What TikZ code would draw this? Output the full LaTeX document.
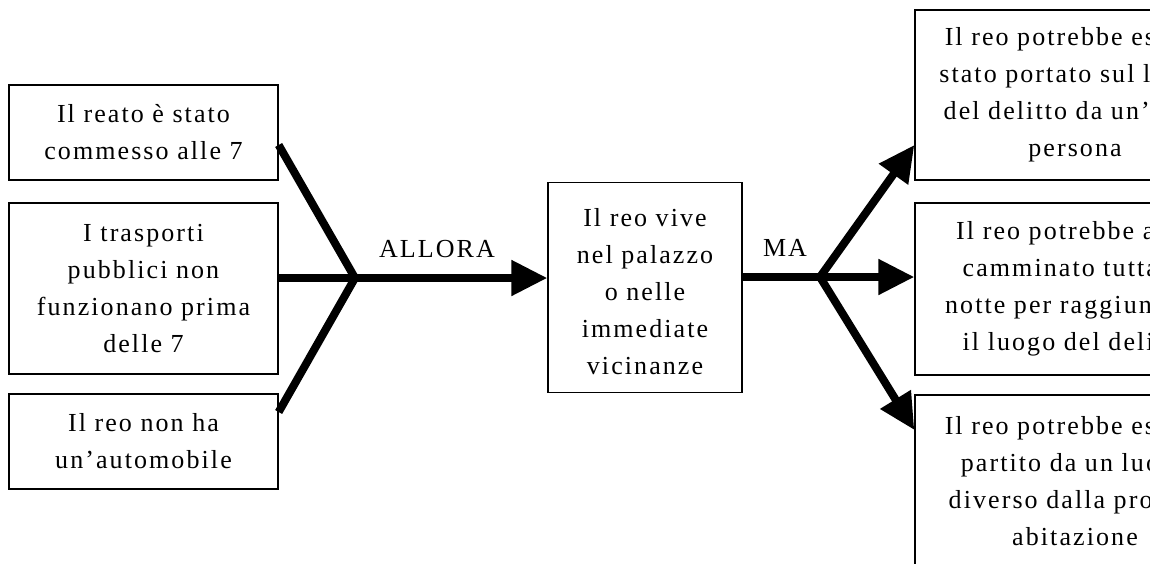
\documentclass[tikz,border=0pt]{standalone}
\usepackage{fontspec}
\setmainfont{Liberation Serif}[LetterSpace=8]
\usetikzlibrary{arrows.meta}

\begin{document}
\begin{tikzpicture}[x=1pt,y=-1pt,
  box/.style={draw, line width=1.3pt, inner sep=0pt, align=center,
    font=\fontsize{26}{37}\selectfont},
  lbl/.style={inner sep=0pt, font=\fontsize{26}{37}\selectfont},
  conn/.style={line width=8pt, line join=round},
  arr/.style={conn, -{Triangle[length=36pt,width=34pt]}}]

\useasboundingbox (0,0) rectangle (1150,563);
\clip (0,0) rectangle (1150,563);

% premises
\node[box, minimum width=269pt, minimum height=95pt] (c1) at (143.5,132.5)
  {Il reato \smash{è} stato\\commesso alle 7};
\node[box, minimum width=269pt, minimum height=171pt] (c2) at (143.5,288.5)
  {I trasporti\\pubblici non\\funzionano prima\\delle 7};
\node[box, minimum width=269pt, minimum height=95pt] (c3) at (143.5,441.5)
  {Il reo non ha\\un’automobile};

% conclusion
\node[box, minimum width=194pt, minimum height=210pt] (m) at (645,287.5)
  {\rule{0pt}{26pt}Il reo vive\\nel palazzo\\o nelle\\immediate\\vicinanze};

% objections
\node[box, minimum width=320pt, minimum height=170pt] (r1) at (1075,95)
  {Il reo potrebbe essere\\stato portato sul luogo\\del delitto da un’altra\\persona};
\node[box, minimum width=320pt, minimum height=172pt] (r2) at (1075,289)
  {Il reo potrebbe aver\\camminato tutta la\\notte per raggiungere\\il luogo del delitto};
\node[box, minimum width=320pt, minimum height=173pt] (r3) at (1075,481.5)
  {Il reo potrebbe essere\\partito da un luogo\\diverso dalla propria\\abitazione};

% junction points
\coordinate (j1) at (355,278);
\coordinate (j2) at (820,277);

% left fan
\draw[conn] ([yshift=-12.5pt]c1.east) -- (j1) -- ([yshift=29.5pt]c3.east);
\draw[conn] ([yshift=10.5pt]c2.east) -- (j1);
\draw[arr] (j1) -- ([yshift=9.5pt]m.west);

% right fan
\draw[conn] ([yshift=10.5pt]m.east) -- (j2);
\draw[arr] (j2) -- ([yshift=-50pt]r1.west);
\draw[arr] (j2) -- ([yshift=12pt]r2.west);
\draw[arr] (j2) -- ([yshift=51.5pt]r3.west);

% labels
\node[lbl] (allora) at (437,249) {ALLORA};
\node[lbl] (ma) at (785,248) {MA};
\end{tikzpicture}
\end{document}
